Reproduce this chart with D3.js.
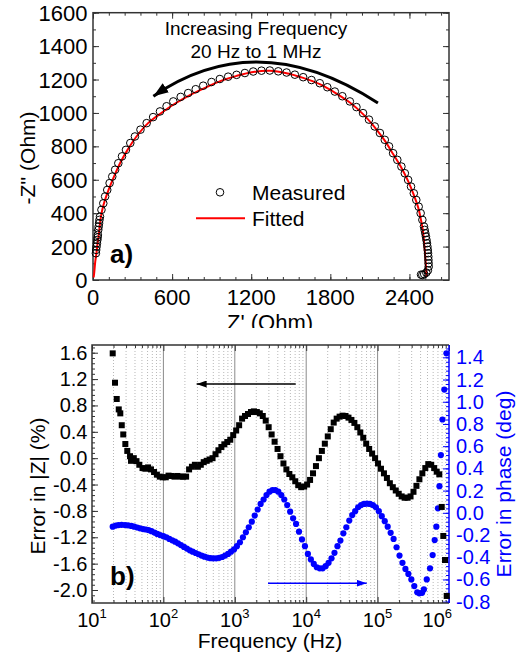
<!DOCTYPE html>
<html>
<head>
<meta charset="utf-8">
<script src="https://cdn.jsdelivr.net/npm/d3@7"></script>
<style>
  html, body { margin: 0; padding: 0; background: #fff; }
  svg { display: block; }
  text { font-family: "Liberation Sans", Arial, sans-serif; }
</style>
</head>
<body>
<div id="chart"></div>
<script>
// ---- panel a) Nyquist data: [Z', -Z''] in Ohm
const measuredZ = [
  [22,160],[24,180],[27,200],[30,220],[33,240],[35,255],[37,270],[40,300],[43,320],[46,340],
  [49,360],[53,379],[64,420],[78,459],[92,500],[108,539],[126,580],[146,619],[168,660],[192,699],
  [220,740],[250,779],[283,820],[318,859],[360,900],[407,939],[456,975],[508,1009],[558,1040],[609,1069],
  [665,1096],[722,1119],[779,1142],[836,1163],[899,1185],[962,1203],[1025,1217],[1089,1228],[1152,1239],[1215,1248],
  [1278,1253],[1341,1254],[1405,1249],[1468,1242],[1531,1229],[1594,1214],[1657,1197],[1720,1178],[1777,1154],[1834,1128],
  [1891,1100],[1948,1069],[1998,1035],[2048,999],[2093,960],[2137,919],[2176,880],[2213,839],[2245,800],[2276,759],
  [2308,719],[2339,679],[2365,639],[2390,599],[2412,559],[2433,519],[2452,479],[2470,439],[2485,400],[2498,360],
  [2510,320],[2515,300],[2520,280],[2525,260],[2529,240],[2533,220],[2536,200],[2539,180],[2541,160],[2543,140],
  [2544,120],[2545,100],[2546,80],[2540,58],[2528,44],[2512,35],[2498,30],[2488,32]
];
const fittedZ = [
  [5,15],[10,50],[17,110],[26,160],[35,220],[45,280],[60,379],[80,450],[118,539],[160,620],
  [205,699],[262,779],[330,859],[418,939],[518,1000],[620,1055],[735,1107],[850,1150],[970,1192],[1090,1222],
  [1215,1245],[1341,1252],[1468,1238],[1594,1210],[1720,1172],[1834,1122],[1948,1062],[2048,993],[2137,914],[2213,834],
  [2276,754],[2339,672],[2390,592],[2433,510],[2468,430],[2490,350],[2503,290],[2514,200],[2522,120],[2527,60],
  [2529,20]
];
const zreTicks = [0, 600, 1200, 1800, 2400];
const zimTicks = [0, 200, 400, 600, 800, 1000, 1200, 1400, 1600];

// ---- panel b) error data: [frequency Hz, error]
const magErr = [
  [19.5,1.59],[21.0,1.145],[22.2,0.898],[23.7,0.74],[24.9,0.68],[26.1,0.50],[27.4,0.36],[29.3,0.215],[31.2,0.11],[34.1,0.03],
  [35.2,-0.04],[38.5,0.0],[42,-0.045],[46,-0.10],[51,-0.15],[56,-0.16],[61,-0.14],[67,-0.17],[74,-0.21],[81,-0.25],
  [89,-0.28],[98,-0.29],[108,-0.29],[118,-0.265],[130,-0.27],[143,-0.28],[157,-0.27],[172,-0.28],[189,-0.28],[208,-0.28],
  [229,-0.17],[251,-0.13],[276,-0.10],[304,-0.13],[334,-0.10],[367,-0.06],[404,-0.04],[444,-0.02],[488,0.0],[537,0.06],
  [590,0.12],[649,0.17],[714,0.21],[785,0.245],[864,0.28],[950,0.35],[1045,0.42],[1150,0.50],[1265,0.60],[1390,0.64],
  [1530,0.67],[1685,0.70],[1850,0.71],[2035,0.70],[2240,0.68],[2465,0.64],[2710,0.57],[2980,0.47],[3280,0.36],[3610,0.25],
  [3970,0.14],[4365,0.03],[4800,-0.08],[5280,-0.17],[5810,-0.24],[6390,-0.29],[7030,-0.35],[7735,-0.41],[8510,-0.44],[9360,-0.43],
  [10300,-0.40],[11330,-0.33],[12460,-0.23],[13700,-0.12],[15070,0.0],[16580,0.11],[18240,0.22],[20060,0.33],[22070,0.44],[24280,0.54],
  [26700,0.60],[29370,0.63],[32310,0.645],[35540,0.64],[39100,0.615],[43000,0.58],[47300,0.535],[52030,0.47],[57240,0.39],[62960,0.31],
  [69260,0.22],[76180,0.14],[83800,0.07],[92180,0.0],[101400,-0.08],[111500,-0.16],[122700,-0.23],[135000,-0.30],[148500,-0.38],[163300,-0.44],
  [179600,-0.49],[197600,-0.54],[217400,-0.58],[239100,-0.60],[263000,-0.60],[289300,-0.58],[318200,-0.51],[350000,-0.42],[385000,-0.32],[423500,-0.23],
  [465900,-0.15],[512500,-0.09],[563700,-0.10],[620100,-0.15],[673000,-0.205],[731000,-0.245],[791000,-0.74],[832000,-1.18],[879000,-1.545],[929000,-2.09]
];
const phaseErr = [
  [19.5,-0.125],[21.5,-0.115],[23.5,-0.11],[26,-0.108],[29,-0.11],[32,-0.113],[35.5,-0.118],[39,-0.125],[43,-0.132],[47,-0.14],
  [52,-0.146],[57,-0.15],[62,-0.155],[68,-0.165],[75,-0.178],[82,-0.19],[90,-0.20],[100,-0.21],[110,-0.22],[121,-0.235],
  [133,-0.248],[146,-0.26],[160,-0.275],[176,-0.29],[194,-0.307],[213,-0.322],[234,-0.338],[257,-0.35],[283,-0.362],[311,-0.373],
  [342,-0.385],[376,-0.395],[414,-0.403],[455,-0.408],[500,-0.41],[550,-0.41],[605,-0.405],[665,-0.398],[732,-0.385],[805,-0.37],
  [885,-0.35],[975,-0.33],[1070,-0.30],[1180,-0.265],[1300,-0.22],[1430,-0.175],[1570,-0.13],[1730,-0.08],[1900,-0.025],[2090,0.03],
  [2300,0.08],[2530,0.12],[2780,0.16],[3060,0.19],[3370,0.205],[3700,0.205],[4070,0.19],[4480,0.16],[4930,0.12],[5420,0.07],
  [5960,0.01],[6560,-0.05],[7210,-0.10],[7930,-0.17],[8730,-0.24],[9600,-0.30],[10560,-0.37],[11620,-0.42],[12780,-0.46],[14060,-0.49],
  [15460,-0.50],[17010,-0.50],[18710,-0.48],[20580,-0.45],[22640,-0.41],[24900,-0.36],[27390,-0.30],[30130,-0.25],[33150,-0.185],[36460,-0.13],
  [40110,-0.07],[44120,-0.02],[48530,0.015],[53380,0.05],[58720,0.07],[64590,0.08],[71050,0.082],[78160,0.08],[85970,0.07],[94570,0.05],
  [104000,0.015],[114400,-0.03],[125900,-0.075],[138500,-0.125],[152300,-0.18],[167500,-0.235],[184300,-0.31],[202700,-0.385],[223000,-0.45],[245300,-0.505],
  [269800,-0.55],[296800,-0.60],[326500,-0.66],[359100,-0.715],[384000,-0.725],[420000,-0.72],[445000,-0.69],[488000,-0.60],[542000,-0.50],[590000,-0.38],
  [630000,-0.245],[665000,-0.125],[700000,0.04],[735000,0.24],[770000,0.52],[810000,0.84],[860000,1.11],[920000,1.436]
];
const freqTicks = [1e1, 1e2, 1e3, 1e4, 1e5, 1e6];
const magTicks = [1.6, 1.2, 0.8, 0.4, 0.0, -0.4, -0.8, -1.2, -1.6, -2.0];
const phaseTicks = [1.4, 1.2, 1.0, 0.8, 0.6, 0.4, 0.2, 0.0, -0.2, -0.4, -0.6, -0.8];

const ink = "#333";
const blue = "#0000ff";
const red = "#ff0000";

const svg = d3.select("#chart").append("svg")
  .attr("width", 516)
  .attr("height", 656);

const defs = svg.append("defs");
defs.append("clipPath").attr("id", "clipTop")
  .append("rect").attr("x", 0).attr("y", 0).attr("width", 516).attr("height", 328);

function marker(id, color, w, h) {
  defs.append("marker")
    .attr("id", id)
    .attr("viewBox", `0 0 ${w} ${h}`)
    .attr("refX", w)
    .attr("refY", h / 2)
    .attr("markerWidth", w)
    .attr("markerHeight", h)
    .attr("markerUnits", "userSpaceOnUse")
    .attr("orient", "auto")
    .append("path")
    .attr("d", `M0,0L${w},${h / 2}L0,${h}Z`)
    .attr("fill", color);
}
marker("headBig", "#000", 15, 11);
marker("headBlack", "#000", 10, 7);
marker("headBlue", blue, 10, 7);

function tickRow(g, axisFn, scale, values, size, color) {
  g.call(axisFn(scale).tickValues(values).tickSize(size).tickFormat(""))
    .call(s => s.select(".domain").remove())
    .call(s => s.selectAll("line").attr("stroke", color).attr("stroke-width", 1));
}

function fmt(v, digits) {
  const s = v.toFixed(digits);
  return s === "-0.0" ? "0.0" : s;
}

// ================= panel a =================
const panelA = svg.append("g").attr("clip-path", "url(#clipTop)");
const xA = d3.scaleLinear().domain([0, 2700]).range([93, 449]);
const yA = d3.scaleLinear().domain([0, 1600]).range([280, 12.7]);

const minorZre = d3.range(0, 2701, 120);
const minorZim = d3.range(0, 1601, 100);
tickRow(panelA.append("g").attr("transform", "translate(0,280)"), d3.axisBottom, xA, minorZre, -3, ink);
tickRow(panelA.append("g").attr("transform", "translate(0,280)"), d3.axisBottom, xA, zreTicks, -6, ink);
tickRow(panelA.append("g").attr("transform", "translate(0,12.7)"), d3.axisTop, xA, minorZre, -3, ink);
tickRow(panelA.append("g").attr("transform", "translate(0,12.7)"), d3.axisTop, xA, zreTicks, -6, ink);
tickRow(panelA.append("g").attr("transform", "translate(93,0)"), d3.axisLeft, yA, minorZim, -3, ink);
tickRow(panelA.append("g").attr("transform", "translate(93,0)"), d3.axisLeft, yA, zimTicks, -6, ink);
tickRow(panelA.append("g").attr("transform", "translate(449,0)"), d3.axisRight, yA, minorZim, -3, ink);
tickRow(panelA.append("g").attr("transform", "translate(449,0)"), d3.axisRight, yA, zimTicks, -6, ink);

panelA.append("rect")
  .attr("x", 93).attr("y", 12.7)
  .attr("width", 449 - 93).attr("height", 280 - 12.7)
  .attr("fill", "none").attr("stroke", ink).attr("stroke-width", 1.5);

panelA.selectAll(".zre-label").data(zreTicks).join("text")
  .attr("x", d => xA(d)).attr("y", 305)
  .attr("text-anchor", "middle").attr("font-size", 22).attr("fill", "#000")
  .text(d => d);
panelA.selectAll(".zim-label").data(zimTicks).join("text")
  .attr("x", 87.5).attr("y", d => yA(d) + 8)
  .attr("text-anchor", "end").attr("font-size", 22).attr("fill", "#000")
  .text(d => d);

panelA.append("text")
  .attr("x", 270).attr("y", 329.5)
  .attr("text-anchor", "middle").attr("font-size", 22)
  .text("Z' (Ohm)");
panelA.append("text")
  .attr("transform", "translate(27,158) rotate(-90)")
  .attr("text-anchor", "middle").attr("dominant-baseline", "central").attr("font-size", 21)
  .text("-Z'' (Ohm)");

// fitted line and measured circles
panelA.append("path")
  .datum(fittedZ)
  .attr("d", d3.line().x(d => xA(d[0])).y(d => yA(d[1])).curve(d3.curveCatmullRom))
  .attr("fill", "none").attr("stroke", red).attr("stroke-width", 2);
panelA.selectAll(".meas").data(measuredZ).join("circle")
  .attr("cx", d => xA(d[0])).attr("cy", d => yA(d[1])).attr("r", 3.8)
  .attr("fill", "none").attr("stroke", "#000").attr("stroke-width", 1);

// curved frequency arrow (data coordinates)
const arcTail = [2161, 1059], arcTop = [1279, 1304], arcHead = [458, 1100];
{
  const p0 = [xA(arcTail[0]), yA(arcTail[1])];
  const pm = [xA(arcTop[0]), yA(arcTop[1])];
  const p2 = [xA(arcHead[0]), yA(arcHead[1])];
  const c = [2 * pm[0] - (p0[0] + p2[0]) / 2, 2 * pm[1] - (p0[1] + p2[1]) / 2];
  panelA.append("path")
    .attr("d", `M${p0[0]},${p0[1]} Q${c[0]},${c[1]} ${p2[0]},${p2[1]}`)
    .attr("fill", "none").attr("stroke", "#000").attr("stroke-width", 3)
    .attr("marker-end", "url(#headBig)");
}
panelA.append("text").attr("x", 256).attr("y", 35)
  .attr("text-anchor", "middle").attr("font-size", 19).text("Increasing Frequency");
panelA.append("text").attr("x", 256).attr("y", 58)
  .attr("text-anchor", "middle").attr("font-size", 19).text("20 Hz to 1 MHz");

// legend
panelA.append("circle").attr("cx", 220).attr("cy", 192.3).attr("r", 3.8)
  .attr("fill", "none").attr("stroke", "#000").attr("stroke-width", 1);
panelA.append("text").attr("x", 252).attr("y", 199.5).attr("font-size", 21).text("Measured");
panelA.append("line").attr("x1", 196).attr("x2", 245).attr("y1", 218.3).attr("y2", 218.3)
  .attr("stroke", red).attr("stroke-width", 2);
panelA.append("text").attr("x", 252).attr("y", 226).attr("font-size", 21).text("Fitted");
panelA.append("text").attr("x", 110).attr("y", 263)
  .attr("font-size", 26).attr("font-weight", "bold").text("a)");

// ================= panel b =================
const panelB = svg.append("g");
const xF = d3.scaleLog().domain([1e1, 1e6]).range([92, 449]);
const yM = d3.scaleLinear().domain([-2.197, 1.717]).range([603, 345]);
const yP = d3.scaleLinear().domain([-0.812, 1.511]).range([603, 345]);

const minorFreq = [];
freqTicks.slice(0, -1).forEach(dec => { for (let k = 2; k <= 9; k++) minorFreq.push(dec * k); });

// grid
panelB.selectAll(".gminor").data(minorFreq).join("line")
  .attr("x1", d => xF(d)).attr("x2", d => xF(d)).attr("y1", 345).attr("y2", 603)
  .attr("stroke", "#b8b8b8").attr("stroke-width", 1).attr("stroke-dasharray", "1,2");
panelB.selectAll(".gmajor").data(freqTicks.slice(1, -1)).join("line")
  .attr("x1", d => xF(d)).attr("x2", d => xF(d)).attr("y1", 345).attr("y2", 603)
  .attr("stroke", "#8a8a8a").attr("stroke-width", 1);

// ticks
tickRow(panelB.append("g").attr("transform", "translate(0,603)"), d3.axisBottom, xF, minorFreq, -3, ink);
tickRow(panelB.append("g").attr("transform", "translate(0,603)"), d3.axisBottom, xF, freqTicks, -6, ink);
tickRow(panelB.append("g").attr("transform", "translate(0,345)"), d3.axisTop, xF, minorFreq, -3, ink);
tickRow(panelB.append("g").attr("transform", "translate(0,345)"), d3.axisTop, xF, freqTicks, -6, ink);
tickRow(panelB.append("g").attr("transform", "translate(92,0)"), d3.axisLeft, yM, d3.range(-2.16, 1.72, 0.08), -3, ink);
tickRow(panelB.append("g").attr("transform", "translate(92,0)"), d3.axisLeft, yM, magTicks, -6, ink);
tickRow(panelB.append("g").attr("transform", "translate(449,0)"), d3.axisRight, yP, d3.range(-0.8, 1.51, 0.04), -3, blue);
tickRow(panelB.append("g").attr("transform", "translate(449,0)"), d3.axisRight, yP, phaseTicks, -6, blue);

// frame
panelB.append("path").attr("d", "M449,345H92V603H449")
  .attr("fill", "none").attr("stroke", ink).attr("stroke-width", 1.5);
panelB.append("line").attr("x1", 449).attr("x2", 449).attr("y1", 345).attr("y2", 603)
  .attr("stroke", blue).attr("stroke-width", 1.5);

// tick labels
panelB.selectAll(".mlab").data(magTicks).join("text")
  .attr("x", 87.5).attr("y", d => yM(d) + 7)
  .attr("text-anchor", "end").attr("font-size", 20).text(d => fmt(d, 1));
panelB.selectAll(".plab").data(phaseTicks).join("text")
  .attr("x", 456).attr("y", d => yP(d) + 7)
  .attr("text-anchor", "start").attr("font-size", 20).attr("fill", blue).text(d => fmt(d, 1));
const lastFreq = freqTicks[freqTicks.length - 1];
const flab = panelB.selectAll(".flab").data(freqTicks).join("text")
  .attr("x", d => d === lastFreq ? xF(d) + 3 : xF(d)).attr("y", 627)
  .attr("text-anchor", d => d === lastFreq ? "end" : "middle").attr("font-size", 20);
flab.append("tspan").text("10");
flab.append("tspan").attr("dy", -9).attr("font-size", 13).text(d => Math.round(Math.log10(d)));

// axis titles
panelB.append("text").attr("x", 270).attr("y", 648)
  .attr("text-anchor", "middle").attr("font-size", 21).text("Frequency (Hz)");
panelB.append("text").attr("transform", "translate(37,486) rotate(-90)")
  .attr("text-anchor", "middle").attr("dominant-baseline", "central").attr("font-size", 21)
  .text("Error in |Z| (%)");
panelB.append("text").attr("transform", "translate(503,484) rotate(-90)")
  .attr("text-anchor", "middle").attr("dominant-baseline", "central").attr("font-size", 21)
  .attr("fill", blue).text("Error in phase (deg)");

// data
panelB.selectAll(".ph").data(phaseErr).join("circle")
  .attr("cx", d => xF(d[0])).attr("cy", d => yP(d[1])).attr("r", 3.1)
  .attr("fill", blue);
panelB.selectAll(".mg").data(magErr).join("rect")
  .attr("x", d => xF(d[0]) - 3).attr("y", d => yM(d[1]) - 3)
  .attr("width", 6).attr("height", 6).attr("fill", "#000");

// direction arrows
const magArrow = { from: 7130, to: 292, y: 1.125 };
const phaseArrow = { from: 2920, to: 70300, y: -0.634 };
panelB.append("line")
  .attr("x1", xF(magArrow.from)).attr("x2", xF(magArrow.to))
  .attr("y1", yM(magArrow.y)).attr("y2", yM(magArrow.y))
  .attr("stroke", "#000").attr("stroke-width", 1.5).attr("marker-end", "url(#headBlack)");
panelB.append("line")
  .attr("x1", xF(phaseArrow.from)).attr("x2", xF(phaseArrow.to))
  .attr("y1", yP(phaseArrow.y)).attr("y2", yP(phaseArrow.y))
  .attr("stroke", blue).attr("stroke-width", 1.5).attr("marker-end", "url(#headBlue)");

panelB.append("text").attr("x", 110).attr("y", 585)
  .attr("font-size", 26).attr("font-weight", "bold").text("b)");
</script>
</body>
</html>
